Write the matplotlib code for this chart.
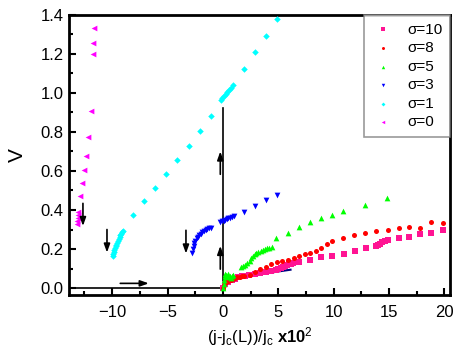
import matplotlib
matplotlib.use("Agg")
import matplotlib.pyplot as plt

plt.rcParams['font.family'] = ['Liberation Sans', 'DejaVu Sans']
plt.rcParams['mathtext.fontset'] = 'custom'
plt.rcParams['mathtext.rm'] = 'Liberation Sans'
plt.rcParams['mathtext.it'] = 'Liberation Sans'
plt.rcParams['mathtext.bf'] = 'Liberation Sans:bold'

# sigma = 0
x_s0 = [-11.68, -11.70, -11.70, -11.91, -12.16, -12.34, -12.52, -12.73, -12.90,
        -13.05, -13.10, -13.13, -13.16, -13.20]
y_s0 = [1.332, 1.255, 1.199, 0.906, 0.772, 0.678, 0.603, 0.538, 0.470,
        0.390, 0.375, 0.360, 0.345, 0.330]

# sigma = 1
x_s1 = [-9.95, -9.90, -9.85, -9.80, -9.75, -9.70, -9.62, -9.55, -9.47, -9.40,
        -9.32, -9.25, -9.17, -9.10, -9.03,
        -8.12, -7.10, -6.11, -5.12, -4.12, -3.10, -2.11, -1.12,
        -0.18, -0.05, 0.10, 0.25, 0.40, 0.55, 0.70, 0.90,
        1.86, 2.85, 3.85, 4.84]
y_s1 = [0.165, 0.175, 0.185, 0.195, 0.205, 0.213, 0.222, 0.232, 0.242, 0.252,
        0.261, 0.270, 0.278, 0.286, 0.293,
        0.375, 0.446, 0.514, 0.583, 0.654, 0.727, 0.804, 0.882,
        0.966, 0.975, 0.985, 0.996, 1.006, 1.016, 1.027, 1.039,
        1.124, 1.209, 1.294, 1.380]

# sigma = 3
x_s3 = [-2.80, -2.72, -2.65, -2.57, -2.48, -2.38, -2.27, -2.15, -2.02, -1.88,
        -1.73, -1.57, -1.40, -1.24, -1.08,
        -0.24, -0.10, 0.05, 0.20, 0.35, 0.50, 0.65, 0.81, 0.96,
        1.86, 2.85, 3.88, 4.87]
y_s3 = [0.182, 0.200, 0.215, 0.230, 0.243, 0.254, 0.264, 0.272, 0.279, 0.286,
        0.292, 0.298, 0.303, 0.307, 0.310,
        0.339, 0.342, 0.346, 0.350, 0.354, 0.357, 0.361, 0.364, 0.367,
        0.392, 0.420, 0.450, 0.477]

# sigma = 5
x_s5 = [0.00, 0.05, 0.10, 0.15, 0.20, 0.30, 0.40, 0.50, 0.60, 0.70, 0.80, 0.90,
        1.60, 1.80, 2.00, 2.20, 2.40, 2.55, 2.70, 2.85, 3.00, 3.20, 3.40, 3.60,
        3.80, 4.00, 4.20, 4.40,
        4.81, 5.87, 6.86, 7.82, 8.84, 9.84, 10.83, 12.84, 14.80]
y_s5 = [0.000, 0.020, 0.040, 0.060, 0.070, 0.065, 0.055, 0.070, 0.060, 0.050, 0.060, 0.065,
        0.106, 0.112, 0.118, 0.128, 0.140, 0.152, 0.163, 0.172, 0.178, 0.183, 0.190, 0.197,
        0.201, 0.204, 0.207, 0.211,
        0.259, 0.284, 0.313, 0.339, 0.358, 0.375, 0.393, 0.426, 0.461]

# sigma = 8
x_s8 = [0.00, 0.10, 0.20, 0.30, 0.50, 0.70, 0.90, 1.10, 1.30, 1.50, 1.70,
        1.86, 2.40, 2.85, 3.37, 3.88, 4.36, 4.87, 5.35, 5.87, 6.37, 6.86, 7.37,
        7.88, 8.36, 8.87, 9.39, 9.86, 10.83, 11.85, 12.84, 13.84, 14.86, 15.85,
        16.84, 17.81, 18.80, 19.82]
y_s8 = [0.000, 0.015, 0.025, 0.032, 0.038, 0.043, 0.047, 0.050, 0.055, 0.058, 0.060,
        0.063, 0.066, 0.080, 0.097, 0.109, 0.121, 0.131, 0.138, 0.145, 0.152, 0.162, 0.172,
        0.182, 0.189, 0.203, 0.225, 0.242, 0.256, 0.271, 0.283, 0.293, 0.298, 0.307,
        0.315, 0.307, 0.339, 0.332]

# sigma = 10
x_s10 = [0.00, 0.20, 0.50, 0.80, 1.10, 1.40, 1.70, 2.00, 2.31, 2.85, 3.37, 3.88, 4.36,
         4.81, 5.00, 5.20, 5.40, 5.60, 5.80, 6.00, 6.15, 6.32,
         6.89, 7.88, 8.87, 9.86, 10.89, 11.88, 12.87,
         13.84, 14.00, 14.20, 14.40, 14.60, 14.86,
         15.85, 16.84, 17.81, 18.80, 19.82]
y_s10 = [0.000, 0.020, 0.030, 0.040, 0.048, 0.055, 0.060, 0.063, 0.066, 0.070, 0.077, 0.080, 0.085,
         0.094, 0.099, 0.105, 0.110, 0.115, 0.119, 0.122, 0.124, 0.126,
         0.134, 0.145, 0.157, 0.165, 0.177, 0.191, 0.203,
         0.213, 0.220, 0.228, 0.235, 0.240, 0.245,
         0.254, 0.264, 0.276, 0.284, 0.296]

# navy reference line
x_nv = [0.0, 0.5, 1.0, 2.0, 3.0, 4.0, 5.0, 6.1]
y_nv = [0.0, 0.030, 0.045, 0.057, 0.067, 0.076, 0.085, 0.094]

# arrows: (x_start, y_start, x_end, y_end)
arrows = [(-12.64, 0.434, -12.64, 0.318),
          (-10.47, 0.300, -10.47, 0.182),
          (-3.34, 0.296, -3.34, 0.177),
          (-9.27, 0.024, -6.70, 0.024),
          (-0.24, 0.097, -0.24, 0.216),
          (-0.24, 0.583, -0.24, 0.700)]

fig = plt.figure(figsize=(4.63, 3.54), dpi=100)
ax = fig.add_axes([0.149, 0.167, 0.823, 0.791])

ms = 13
ax.plot([-14, 0], [0, 0], color='black', lw=1.2, zorder=1)
ax.plot([0, 0], [0, 0.925], color='black', lw=1.2, zorder=1)
ax.plot(x_nv, y_nv, color='#000080', lw=1.5, zorder=2)

ax.scatter(x_s10, y_s10, marker='s', s=ms, color='#FF1493', lw=0, label='σ=10', zorder=3)
ax.scatter(x_s8, y_s8, marker='o', s=ms, color='#FF0000', lw=0, label='σ=8', zorder=3)
ax.scatter(x_s5, y_s5, marker='^', s=ms + 4, color='#00FF00', lw=0, label='σ=5', zorder=3)
ax.scatter(x_s3, y_s3, marker='v', s=ms + 4, color='#0000FF', lw=0, label='σ=3', zorder=3)
ax.scatter(x_s1, y_s1, marker='D', s=ms - 2, color='#00FFFF', lw=0, label='σ=1', zorder=3)
ax.scatter(x_s0, y_s0, marker='<', s=ms + 4, color='#FF00FF', lw=0, label='σ=0', zorder=3)

for x1, y1, x2, y2 in arrows:
    ax.annotate('', xy=(x2, y2), xytext=(x1, y1),
                arrowprops=dict(arrowstyle='-|>,head_length=0.5,head_width=0.18',
                                color='black', lw=1.2, shrinkA=0, shrinkB=0))

ax.set_xlim(-13.9, 20.5)
ax.set_ylim(-0.035, 1.4)
ax.set_xticks([-10, -5, 0, 5, 10, 15, 20])
ax.set_xticks([-12.5, -7.5, -2.5, 2.5, 7.5, 12.5, 17.5], minor=True)
ax.set_yticks([0.0, 0.2, 0.4, 0.6, 0.8, 1.0, 1.2, 1.4])
ax.set_yticks([0.1, 0.3, 0.5, 0.7, 0.9, 1.1, 1.3], minor=True)
ax.tick_params(which='both', direction='in', labelsize=12, width=1.5)
ax.tick_params(which='major', length=5)
ax.tick_params(which='minor', length=3)
ax.tick_params(axis='x', which='major', pad=7)
ax.tick_params(axis='y', which='major', pad=4)
for sp in ax.spines.values():
    sp.set_linewidth(2)

ax.set_xlabel(r'(j-j$_\mathregular{c}$(L))/j$_\mathregular{c}$ $\mathbf{x10}^\mathregular{2}$',
              fontsize=12, labelpad=4)
ax.set_ylabel('V', fontsize=15, labelpad=10)

leg = ax.legend(loc='upper right', fontsize=11, frameon=True, fancybox=False,
                edgecolor='#808080', markerscale=0.6, handletextpad=0.8,
                borderaxespad=0, labelspacing=0.3, borderpad=0.5, handlelength=1.5)
leg.get_frame().set_linewidth(1.2)

fig.savefig('out.png', dpi=100)
